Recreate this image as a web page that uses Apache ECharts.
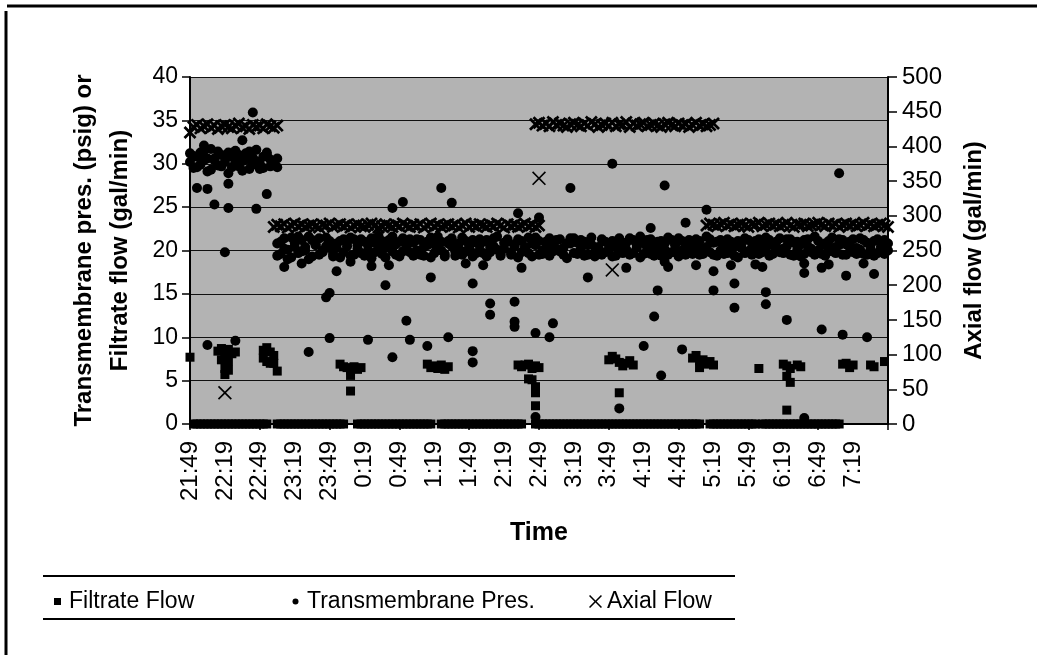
<!DOCTYPE html>
<html>
<head>
<meta charset="utf-8">
<script src="https://cdn.jsdelivr.net/npm/echarts@6/dist/echarts.min.js"></script>
<style>
  html, body { margin: 0; padding: 0; background: #fff; }
  #chart { width: 1037px; height: 655px; }
</style>
</head>
<body>
<div id="chart"></div>
<script>
// readings every 3 minutes from 21:49 to 7:49
const startMinute = 21 * 60 + 49;
const stepMinutes = 3;
const sampleCount = 201;

// filtrate flow (gal/min), one reading per sample, null = no reading
const filtrateFlow = [
  7.7, 0, 0, 0, 0, 0, 0, 0, 0, 0, 0, 0, 0, 0, 0, 0, 0, 0, 0, 0,
  0, 0, 0, 8.3, 7.0, 0, 0, 0, 0, 0, 0, 0, 0, 0, 0, 0, 0, 0, 0, 0,
  0, 0, 0, 0, 0, 6.5, 6.2, 6.6, 0, 0, 0, 0, 0, 0, 0, 0, 0, 0, 0, 0,
  0, 0, 0, 0, 0, 0, 0, 0, 0, 0, 6.7, 6.4, 0, 0, 0, 0, 0, 0, 0, 0,
  0, 0, 0, 0, 0, 0, 0, 0, 0, 0, 0, 0, 0, 0, 0, 0, 6.8, 5.2, 6.4, 0,
  0, 0, 0, 0, 0, 0, 0, 0, 0, 0, 0, 0, 0, 0, 0, 0, 0, 0, 0, 0,
  0, 0, 0, 0, 0, 0, 0, 0, 0, 0, 0, 0, 0, 0, 0, 0, 0, 0, 0, 0,
  0, 0, 0, 0, 0, 0, 0, 7.4, 6.9, 0, 0, 0, 0, 0, 0, 0, 0, 0, 0, 0,
  0, 0, 0, 6.4, 0, 0, 0, 0, 0, 0, 0, 0, 0, 0, 0, 0, 0, 0, 0, 0,
  0, 0, 0, 0, 0, 0, 0, 6.9, 7.0, 6.5, 6.8
];
// extra filtrate readings [sample, value] around the pressure changes
const filtrateExtra = [
  [8, 8.4], [9, 8.7], [10, 8.2], [11, 8.6], [12, 8.1], [13, 8.3], [9, 7.4], [10, 7.6], [11, 7.2], [10, 6.4], [11, 6.2], [10, 5.7],
  [21, 8.5], [22, 8.8], [24, 7.9], [22, 7.2], [23, 7.0], [21, 7.6], [25, 6.1],
  [43, 6.9], [44, 6.6], [48, 6.3], [49, 6.5], [46, 5.6], [46, 3.8],
  [68, 6.9], [69, 6.5], [72, 6.8], [73, 6.3], [74, 6.6],
  [94, 6.8], [95, 6.6], [97, 6.9], [99, 6.7], [100, 6.5], [98, 5.1], [99, 4.3], [99, 3.6], [99, 2.1],
  [120, 7.4], [121, 7.8], [122, 7.5], [123, 7.1], [124, 6.7], [125, 7.0], [126, 7.3], [127, 6.8], [123, 3.6],
  [144, 7.6], [145, 7.9], [146, 7.3], [149, 7.2], [150, 6.8], [146, 6.5],
  [170, 6.9], [171, 6.7], [172, 6.4], [174, 6.8], [175, 6.6], [171, 5.5], [172, 4.8], [171, 1.6],
  [195, 6.8], [196, 6.6], [199, 7.2]
];

// transmembrane pressure (psig), two readings per sample in the steady bands
const tmpHighStart = 0;
const tmpHigh = [
  30.2, 30.9, 29.6, 31.3, 30.4, 29.1, 31.7, 30.6, 29.8, 31.0, 30.2, 28.9, 30.8,
  31.5, 29.7, 30.3, 31.2, 29.4, 30.7, 31.6, 30.0, 29.5, 31.1, 30.5, 29.9, 30.6
];
const tmpHigh2 = [
  31.2, 29.5, 30.8, 29.9, 31.5, 30.6, 29.3, 30.4, 31.4, 29.7, 30.9, 31.3, 29.6,
  30.1, 31.0, 29.2, 30.5, 31.4, 29.9, 30.3, 29.4, 30.8, 31.3, 29.7, 30.2, 29.6
];
const tmpLowStart = 25;
const tmpLow = [
  20.8, 19.6, 21.4, 20.1, 19.2, 20.9, 21.6, 19.9, 20.4, 19.0, 21.2, 20.6, 19.5, 20.0, 21.5, 20.3, 19.3, 20.8, 21.1, 19.8,
  20.5, 19.4, 21.3, 20.2, 19.7, 21.0, 20.6, 19.1, 20.9, 21.7, 19.6, 20.3, 21.2, 19.9, 20.7, 19.3, 21.4, 20.1, 19.8, 20.9,
  21.3, 19.5, 20.4, 21.0, 19.2, 20.7, 21.6, 20.0, 19.6, 21.1, 20.5, 19.4, 20.8, 21.5, 19.9, 20.2, 21.2, 19.7, 20.6, 21.0,
  19.3, 20.4, 21.4, 20.1, 19.6, 20.9, 21.3, 19.8, 20.5, 19.2, 21.1, 20.3, 19.7, 20.8, 21.5, 19.5, 20.0, 21.0, 19.4, 20.6,
  21.2, 19.9, 20.3, 19.1, 20.8, 21.4, 19.6, 20.2, 21.0, 19.5, 20.7, 19.3, 20.4, 21.3, 19.8, 20.1, 21.1, 19.4, 20.6, 19.9,
  20.9, 21.4, 19.7, 20.3, 19.2, 20.8, 21.2, 19.6, 20.5, 21.0, 19.4, 20.1, 21.5, 19.8, 20.6, 19.3, 21.1, 20.4, 19.9, 20.7,
  21.3, 19.5, 20.2, 21.6, 19.8, 20.9, 19.4, 21.2, 20.4, 19.7, 21.0, 20.5, 19.2, 20.8, 21.4, 19.9, 20.3, 21.1, 19.6, 20.7,
  21.5, 19.4, 20.6, 21.0, 19.8, 20.2, 21.3, 19.5, 20.9, 20.1, 19.3, 21.2, 20.5, 19.8, 21.6, 20.0, 19.6, 20.8, 21.1, 19.9,
  20.4, 21.3, 19.5, 20.7, 21.0, 19.8, 20.3, 21.4, 19.6, 20.9, 20.2, 21.1, 19.7, 20.5, 21.2, 20.0
];
const tmpLow2 = [
  19.4, 21.0, 20.2, 19.0, 21.5, 20.4, 19.7, 21.2, 20.0, 21.6, 19.3, 20.7, 21.4, 19.8, 20.5, 21.1, 19.6, 20.3, 19.2, 21.3,
  20.9, 21.5, 19.5, 20.6, 21.3, 19.4, 20.0, 21.4, 19.8, 20.4, 21.1, 19.2, 20.5, 21.6, 19.5, 21.0, 19.9, 20.6, 21.3, 19.4,
  20.0, 21.2, 19.4, 20.6, 21.5, 19.7, 20.3, 21.0, 19.3, 20.8, 21.4, 19.9, 20.2, 19.5, 21.1, 20.6, 19.3, 20.9, 21.3, 19.7,
  21.2, 19.8, 20.5, 21.6, 19.4, 20.2, 21.0, 19.5, 20.7, 21.3, 19.8, 20.4, 21.5, 19.3, 20.6, 21.1, 19.6, 20.3, 21.4, 19.9,
  20.2, 21.3, 19.5, 20.8, 21.4, 19.7, 20.9, 21.2, 19.4, 20.6, 21.5, 19.8, 20.2, 19.5, 21.0, 20.7, 19.3, 20.4, 21.4, 19.7,
  20.1, 19.5, 21.2, 20.7, 21.6, 19.6, 20.3, 21.3, 19.4, 20.2, 21.1, 20.8, 19.5, 21.2, 19.8, 21.4, 20.0, 19.5, 21.2, 19.6,
  20.2, 21.1, 19.6, 20.4, 21.3, 19.5, 21.0, 20.0, 19.6, 21.3, 20.2, 19.4, 21.1, 20.3, 19.7, 21.2, 19.5, 20.4, 21.3, 19.8,
  20.3, 21.2, 19.6, 20.4, 21.4, 19.7, 20.5, 21.3, 19.4, 21.0, 20.7, 19.6, 21.3, 20.2, 19.5, 21.1, 20.6, 19.4, 20.3, 21.5,
  19.7, 20.6, 21.2, 19.5, 20.4, 21.3, 19.6, 20.1, 21.2, 19.5, 20.7, 19.4, 21.3, 20.2, 19.6, 20.8
];
const tmpScatter = [
  [18, 35.9], [4, 32.1], [15, 32.7], [2, 27.2], [5, 27.1], [11, 27.7], [22, 26.5], [7, 25.3], [11, 24.9], [19, 24.8],
  [10, 19.8], [5, 9.1], [13, 9.6],
  [27, 18.1], [32, 18.5], [42, 17.6], [46, 18.7], [52, 18.2], [57, 18.3], [56, 16.0], [40, 15.1], [39, 14.6],
  [40, 9.9], [51, 9.7], [34, 8.3], [58, 7.7], [72, 27.2], [61, 25.6], [75, 25.5], [58, 24.9], [94, 24.3],
  [100, 23.8], [109, 27.2], [95, 18.0], [69, 16.9], [84, 18.3], [79, 18.5], [81, 16.2], [114, 16.9],
  [86, 13.9], [86, 12.6], [93, 14.1], [93, 11.8], [93, 11.2], [62, 11.9], [104, 11.6], [63, 9.7], [74, 10.0],
  [99, 10.5], [103, 10.0], [68, 9.0], [81, 8.4], [81, 7.1], [99, 0.8],
  [121, 30.0], [136, 27.5], [186, 28.9], [148, 24.7], [142, 23.2], [132, 22.6],
  [125, 18.0], [136, 18.7], [137, 18.1], [145, 18.3], [150, 17.6], [155, 18.3], [162, 18.4], [164, 18.1],
  [176, 18.5], [176, 17.4], [181, 18.0], [183, 18.4], [193, 18.5], [196, 17.3], [188, 17.1],
  [156, 16.2], [134, 15.4], [150, 15.4], [165, 15.2], [165, 13.8], [156, 13.4], [133, 12.4], [171, 12.0],
  [181, 10.9], [187, 10.3], [194, 10.0], [130, 9.0], [141, 8.6], [135, 5.6], [123, 1.8], [176, 0.7]
];

// axial flow (gal/min)
const axialAStart = 0;
const axialA = [
  420, 428, 431, 426, 429, 432, 427, 430, 425, 429, 431, 428, 426,
  430, 433, 427, 429, 425, 431, 428, 430, 426, 432, 429, 427, 430
];
const axialBStart = 24;
const axialB = [
  284, 287, 285, 288, 283, 286, 289, 285, 287, 284, 286, 288, 285, 283, 287, 286, 289, 284, 286, 288,
  285, 287, 283, 286, 288, 285, 284, 287, 289, 286, 283, 285, 288, 286, 284, 287, 285, 289, 286, 284,
  287, 285, 288, 283, 286, 289, 285, 287, 284, 286, 288, 285, 287, 283, 286, 289, 284, 287, 285, 288,
  286, 284, 287, 285, 289, 286, 283, 288, 285, 287, 284, 286, 289, 285, 287, 284, 286
];
const axialCStart = 99;
const axialC = [
  432, 434, 430, 433, 429, 435, 431, 433, 430, 428, 432, 434, 431, 429, 433, 430, 435, 432, 428, 431,
  433, 430, 434, 429, 432, 431, 435, 428, 433, 430, 432, 434, 429, 431, 433, 430, 428, 432, 434, 431,
  429, 433, 430, 432, 428, 431, 434, 430, 432, 429, 431, 433
];
const axialDStart = 148;
const axialD = [
  286, 289, 287, 285, 288, 290, 286, 288, 285, 287, 289, 286, 284, 288, 287, 290, 285, 287, 289, 286,
  288, 285, 287, 290, 286, 284, 288, 287, 289, 285, 286, 288, 290, 287, 285, 289, 286, 288, 284, 287,
  289, 286, 288, 285, 287, 290, 286, 288, 285, 287, 289, 286, 284
];
const axialScatter = [[10, 45], [100, 354], [121, 222], [145, 258]];

const times = [];
for (let i = 0; i < sampleCount; i++) {
  const m = (startMinute + i * stepMinutes) % 1440;
  times.push(Math.floor(m / 60) + ':' + String(m % 60).padStart(2, '0'));
}

function run(start, values) {
  return values.map((v, k) => [start + k, v]);
}

const font = '"Liberation Sans", Arial, sans-serif';
const crossPath = 'path://M0,1.8 L1.8,0 L6,4.2 L10.2,0 L12,1.8 L7.8,6 L12,10.2 L10.2,12 L6,7.8 L1.8,12 L0,10.2 L4.2,6 Z';
const crossIcon = 'path://M1,0 L6,5 L11,0 L12,1 L7,6 L12,11 L11,12 L6,7 L1,12 L0,11 L5,6 L0,1 Z';
const squareIcon = 'path://M0,0 M13,13 M3,3 L10,3 L10,10 L3,10 Z';
const dotIcon = 'path://M0,0 M13,13 M6.5,3.5 A3,3 0 1 1 6.49,3.5 Z';

function legendAt(left, name, icon) {
  return {
    left: left,
    top: 585,
    itemWidth: 13,
    itemHeight: 13,
    itemGap: 6,
    textStyle: { fontFamily: font, fontSize: 23, color: '#000' },
    data: [{ name: name, icon: icon }]
  };
}

function scatter(name, data, opts) {
  return Object.assign({
    name: name,
    type: 'scatter',
    symbol: 'circle',
    symbolSize: 10,
    itemStyle: { color: '#000', opacity: 1 },
    data: data
  }, opts || {});
}

let myChart = echarts.init(document.getElementById('chart'));

let option = {
  animation: false,
  backgroundColor: '#fff',
  textStyle: { fontFamily: font, color: '#000' },
  grid: {
    left: 190, right: 149, top: 77, bottom: 231,
    show: true,
    backgroundColor: '#b3b3b3',
    borderWidth: 0
  },
  legend: [
    legendAt(46, 'Filtrate Flow', squareIcon),
    legendAt(284, 'Transmembrane Pres.', dotIcon),
    legendAt(584, 'Axial Flow', crossIcon)
  ],
  xAxis: {
    type: 'category',
    data: times,
    boundaryGap: false,
    name: 'Time',
    nameLocation: 'middle',
    nameGap: 97,
    nameTextStyle: { fontFamily: font, fontSize: 25, fontWeight: 'bold', color: '#000' },
    axisLine: { lineStyle: { color: '#000', width: 2 } },
    axisTick: {
      interval: (idx) => idx % 20 === 0,
      length: 6,
      lineStyle: { color: '#000', width: 1.5 }
    },
    axisLabel: {
      interval: (idx) => idx % 10 === 0 && idx < 200,
      rotate: 90,
      margin: 17,
      fontSize: 24,
      fontFamily: font,
      color: '#000'
    },
    splitLine: { show: false }
  },
  yAxis: [
    {
      type: 'value',
      min: 0, max: 40, interval: 5,
      name: 'Transmembrane pres. (psig) or\nFiltrate flow (gal/min)',
      nameLocation: 'middle',
      nameGap: 52,
      nameTextStyle: { fontFamily: font, fontSize: 24, fontWeight: 'bold', color: '#000', lineHeight: 36 },
      axisLine: { show: true, lineStyle: { color: '#000', width: 2 } },
      axisTick: { show: true, length: 8, lineStyle: { color: '#000', width: 1.5 } },
      axisLabel: { fontSize: 23, fontFamily: font, color: '#000', margin: 12 },
      splitLine: { show: true, lineStyle: { color: '#111', width: 1.2 } }
    },
    {
      type: 'value',
      min: 0, max: 500, interval: 50,
      position: 'right',
      name: 'Axial flow (gal/min)',
      nameLocation: 'middle',
      nameGap: 74,
      nameTextStyle: { fontFamily: font, fontSize: 24, fontWeight: 'bold', color: '#000' },
      axisLine: { show: true, lineStyle: { color: '#000', width: 2 } },
      axisTick: { show: true, length: 9, lineStyle: { color: '#000', width: 1.5 } },
      axisLabel: { fontSize: 24, fontFamily: font, color: '#000', margin: 14 },
      splitLine: { show: false }
    }
  ],
  graphic: [
    { type: 'line', shape: { x1: 7, y1: 6, x2: 1037, y2: 6 }, style: { stroke: '#000', lineWidth: 3 } },
    { type: 'line', shape: { x1: 6, y1: 11, x2: 6, y2: 655 }, style: { stroke: '#000', lineWidth: 3 } },
    { type: 'line', shape: { x1: 43, y1: 576, x2: 735, y2: 576 }, style: { stroke: '#000', lineWidth: 2 } },
    { type: 'line', shape: { x1: 43, y1: 619, x2: 735, y2: 619 }, style: { stroke: '#000', lineWidth: 2 } }
  ],
  series: [
    scatter('Filtrate Flow', filtrateFlow, { symbol: 'rect', symbolSize: 9 }),
    scatter('Filtrate Flow', filtrateExtra, { symbol: 'rect', symbolSize: 9 }),
    scatter('Transmembrane Pres.', run(tmpHighStart, tmpHigh)),
    scatter('Transmembrane Pres.', run(tmpHighStart, tmpHigh2)),
    scatter('Transmembrane Pres.', run(tmpLowStart, tmpLow)),
    scatter('Transmembrane Pres.', run(tmpLowStart, tmpLow2)),
    scatter('Transmembrane Pres.', tmpScatter),
    scatter('Axial Flow', run(axialAStart, axialA), { yAxisIndex: 1, symbol: crossPath, symbolSize: 13 }),
    scatter('Axial Flow', run(axialBStart, axialB), { yAxisIndex: 1, symbol: crossPath, symbolSize: 13 }),
    scatter('Axial Flow', run(axialCStart, axialC), { yAxisIndex: 1, symbol: crossPath, symbolSize: 13 }),
    scatter('Axial Flow', run(axialDStart, axialD), { yAxisIndex: 1, symbol: crossPath, symbolSize: 13 }),
    scatter('Axial Flow', axialScatter, { yAxisIndex: 1, symbol: crossIcon, symbolSize: 14 })
  ]
};

myChart.setOption(option);
</script>
</body>
</html>
